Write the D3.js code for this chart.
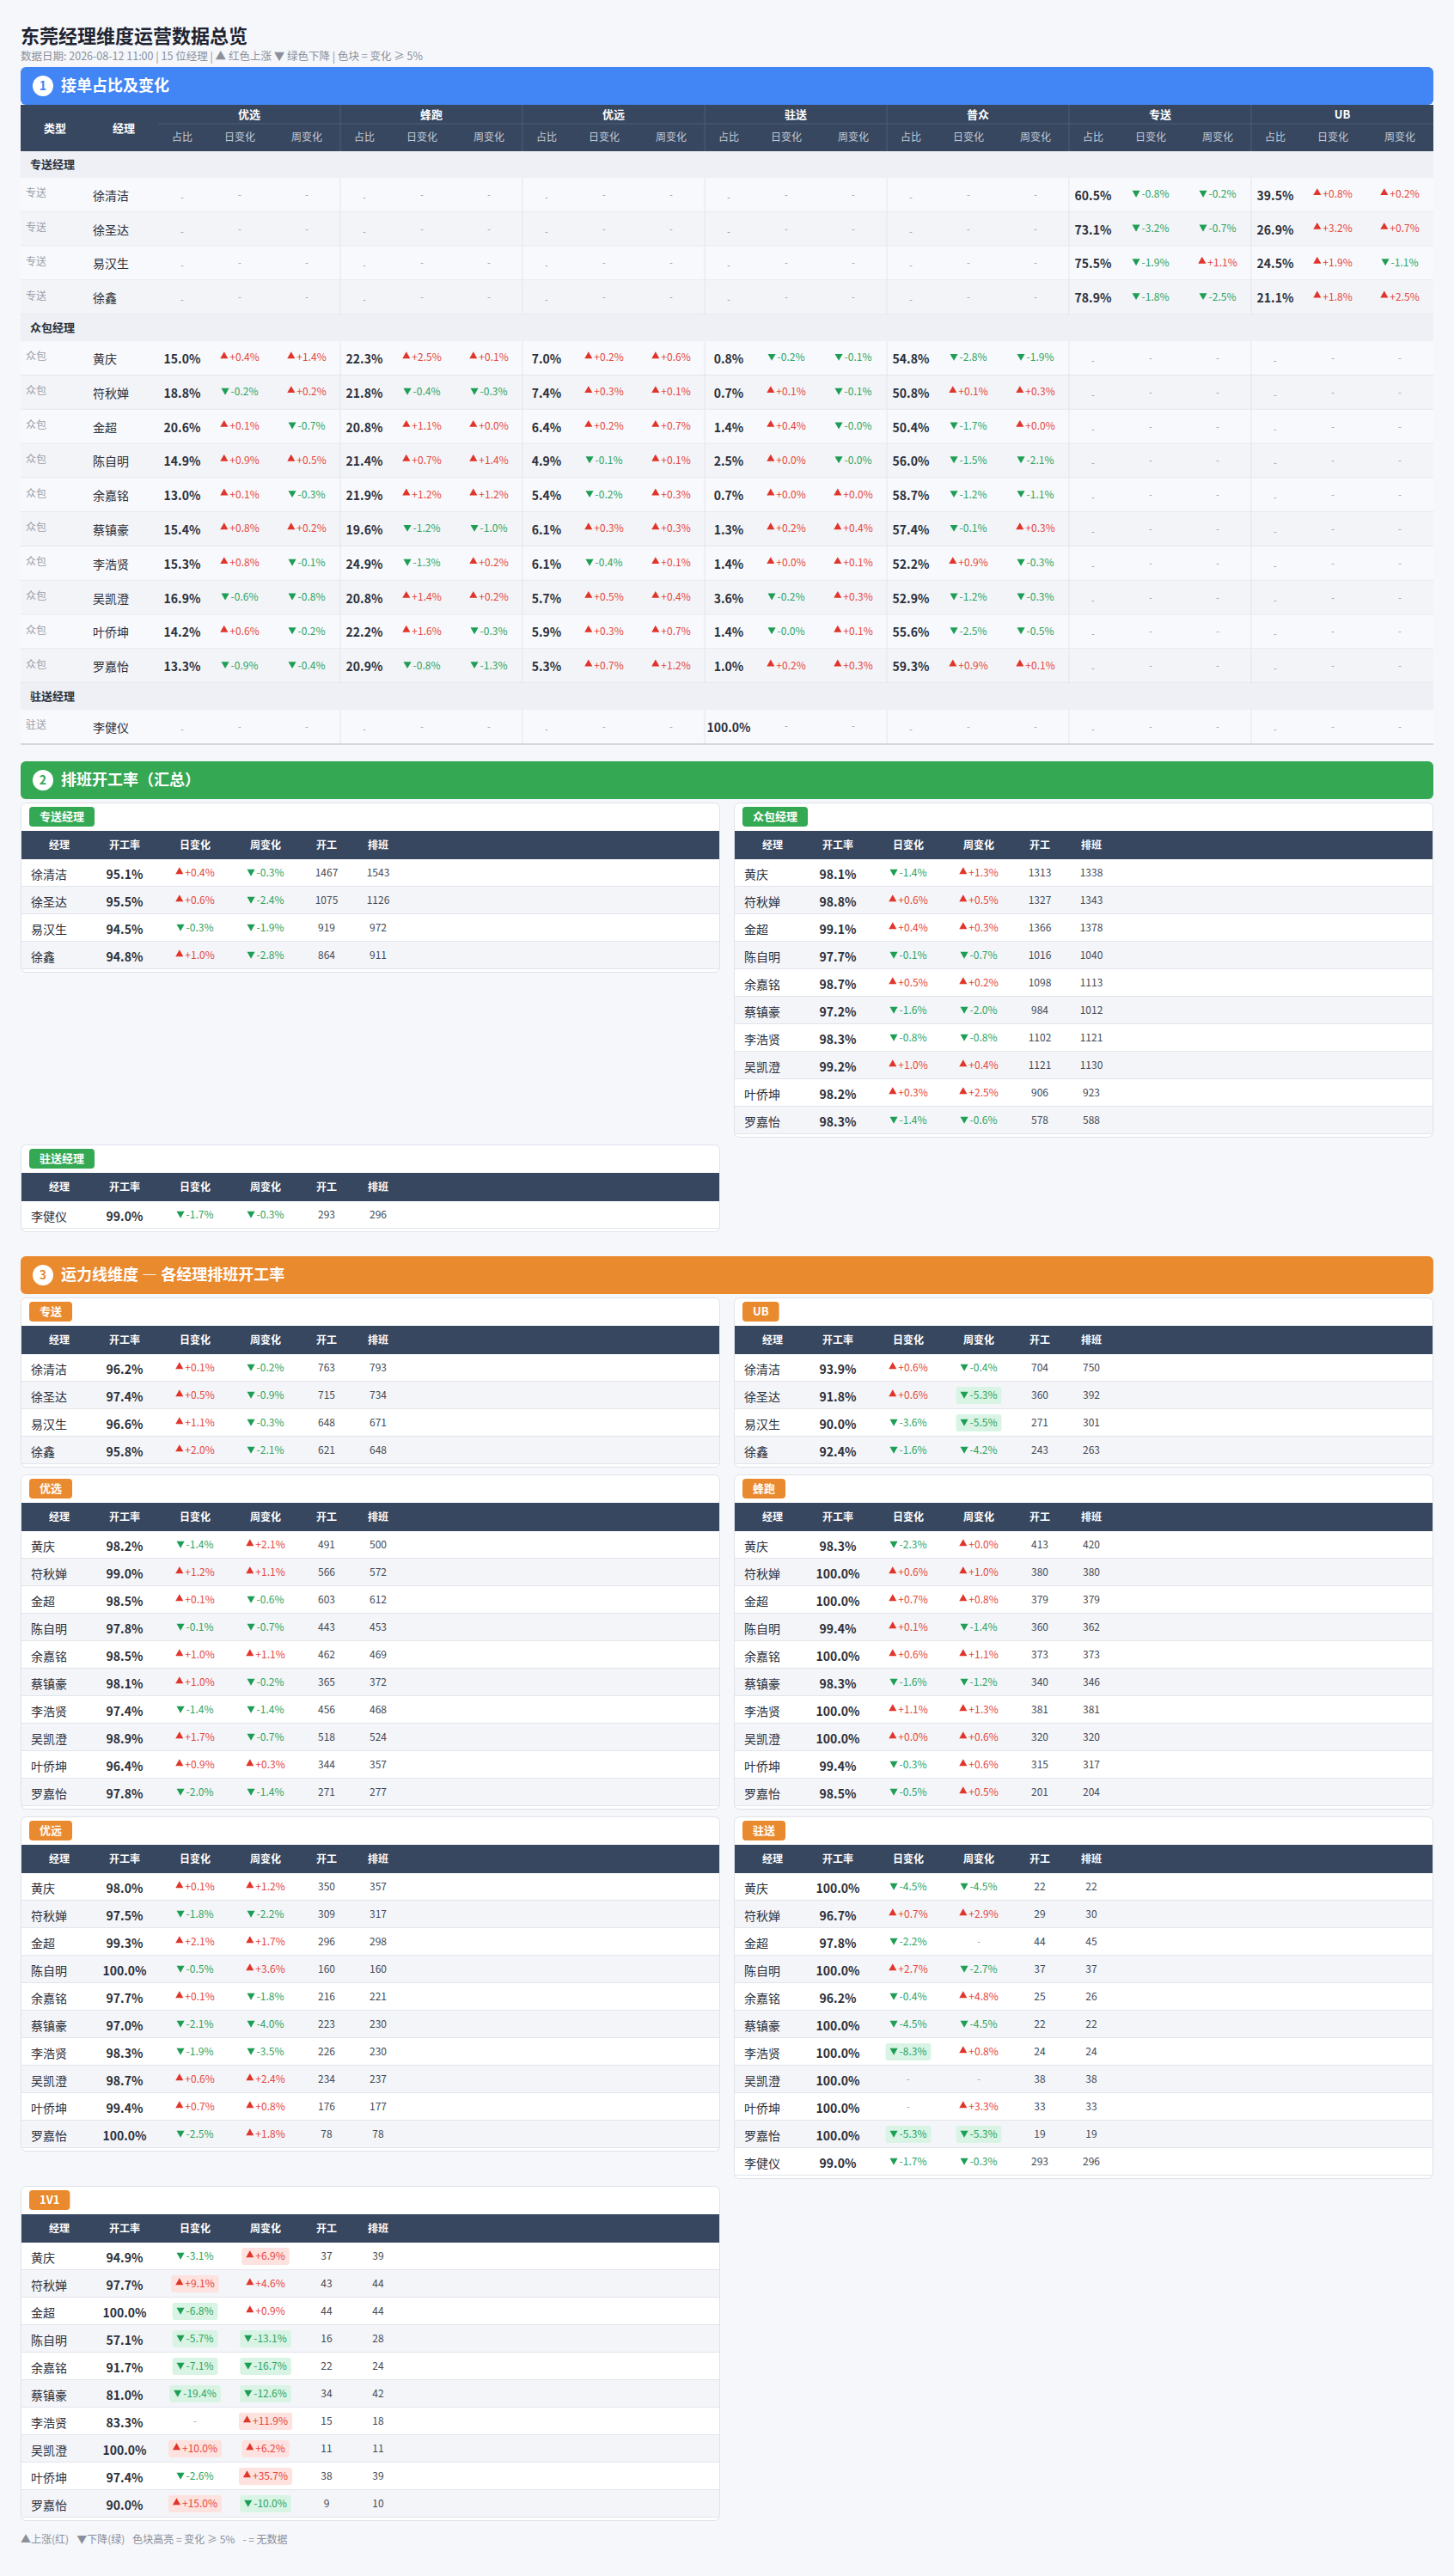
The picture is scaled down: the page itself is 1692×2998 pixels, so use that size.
<!DOCTYPE html>
<html lang="zh-CN">
<head>
<meta charset="utf-8">
<script src="https://cdn.jsdelivr.net/npm/d3@7"></script>
<style>
body { margin: 0; background: #f5f7fb; }
svg text { font-family: "Noto Sans CJK SC", "Noto Sans", sans-serif; }
</style>
</head>
<body>
<script>

// ---- data ----
var lines = ["优选", "蜂跑", "优远", "驻送", "普众", "专送", "UB"];
var subCols = ["占比", "日变化", "周变化"];

// 接单占比: [经理, [占比, 日变化, 周变化] per line]
var zhuansongLines = ["专送", "UB"];
var shareZhuansong = [
  ["徐清洁", [60.5, -0.8, -0.2], [39.5, 0.8, 0.2]],
  ["徐圣达", [73.1, -3.2, -0.7], [26.9, 3.2, 0.7]],
  ["易汉生", [75.5, -1.9, 1.1], [24.5, 1.9, -1.1]],
  ["徐鑫", [78.9, -1.8, -2.5], [21.1, 1.8, 2.5]]
];
var zhongbaoLines = ["优选", "蜂跑", "优远", "驻送", "普众"];
var shareZhongbao = [
  ["黄庆", [15.0, 0.4, 1.4], [22.3, 2.5, 0.1], [7.0, 0.2, 0.6], [0.8, -0.2, -0.1], [54.8, -2.8, -1.9]],
  ["符秋婵", [18.8, -0.2, 0.2], [21.8, -0.4, -0.3], [7.4, 0.3, 0.1], [0.7, 0.1, -0.1], [50.8, 0.1, 0.3]],
  ["金超", [20.6, 0.1, -0.7], [20.8, 1.1, 0.0], [6.4, 0.2, 0.7], [1.4, 0.4, -0.0], [50.4, -1.7, 0.0]],
  ["陈自明", [14.9, 0.9, 0.5], [21.4, 0.7, 1.4], [4.9, -0.1, 0.1], [2.5, 0.0, -0.0], [56.0, -1.5, -2.1]],
  ["余嘉铭", [13.0, 0.1, -0.3], [21.9, 1.2, 1.2], [5.4, -0.2, 0.3], [0.7, 0.0, 0.0], [58.7, -1.2, -1.1]],
  ["蔡镇豪", [15.4, 0.8, 0.2], [19.6, -1.2, -1.0], [6.1, 0.3, 0.3], [1.3, 0.2, 0.4], [57.4, -0.1, 0.3]],
  ["李浩贤", [15.3, 0.8, -0.1], [24.9, -1.3, 0.2], [6.1, -0.4, 0.1], [1.4, 0.0, 0.1], [52.2, 0.9, -0.3]],
  ["吴凯澄", [16.9, -0.6, -0.8], [20.8, 1.4, 0.2], [5.7, 0.5, 0.4], [3.6, -0.2, 0.3], [52.9, -1.2, -0.3]],
  ["叶侨坤", [14.2, 0.6, -0.2], [22.2, 1.6, -0.3], [5.9, 0.3, 0.7], [1.4, -0.0, 0.1], [55.6, -2.5, -0.5]],
  ["罗嘉怡", [13.3, -0.9, -0.4], [20.9, -0.8, -1.3], [5.3, 0.7, 1.2], [1.0, 0.2, 0.3], [59.3, 0.9, 0.1]]
];
var zhusongLines = ["驻送"];
var shareZhusong = [
  ["李健仪", [100.0, null, null]]
];

// 排班开工率: [经理, 开工率, 日变化, 周变化, 开工, 排班]
var tableCols = ["经理", "开工率", "日变化", "周变化", "开工", "排班"];
var paibanZhuansong = [
  ["徐清洁", 95.1, 0.4, -0.3, 1467, 1543],
  ["徐圣达", 95.5, 0.6, -2.4, 1075, 1126],
  ["易汉生", 94.5, -0.3, -1.9, 919, 972],
  ["徐鑫", 94.8, 1.0, -2.8, 864, 911]
];
var paibanZhongbao = [
  ["黄庆", 98.1, -1.4, 1.3, 1313, 1338],
  ["符秋婵", 98.8, 0.6, 0.5, 1327, 1343],
  ["金超", 99.1, 0.4, 0.3, 1366, 1378],
  ["陈自明", 97.7, -0.1, -0.7, 1016, 1040],
  ["余嘉铭", 98.7, 0.5, 0.2, 1098, 1113],
  ["蔡镇豪", 97.2, -1.6, -2.0, 984, 1012],
  ["李浩贤", 98.3, -0.8, -0.8, 1102, 1121],
  ["吴凯澄", 99.2, 1.0, 0.4, 1121, 1130],
  ["叶侨坤", 98.2, 0.3, 2.5, 906, 923],
  ["罗嘉怡", 98.3, -1.4, -0.6, 578, 588]
];
var paibanZhusong = [
  ["李健仪", 99.0, -1.7, -0.3, 293, 296]
];

// 运力线维度
var yunliZhuansong = [
  ["徐清洁", 96.2, 0.1, -0.2, 763, 793],
  ["徐圣达", 97.4, 0.5, -0.9, 715, 734],
  ["易汉生", 96.6, 1.1, -0.3, 648, 671],
  ["徐鑫", 95.8, 2.0, -2.1, 621, 648]
];
var yunliUB = [
  ["徐清洁", 93.9, 0.6, -0.4, 704, 750],
  ["徐圣达", 91.8, 0.6, -5.3, 360, 392],
  ["易汉生", 90.0, -3.6, -5.5, 271, 301],
  ["徐鑫", 92.4, -1.6, -4.2, 243, 263]
];
var yunliYouxuan = [
  ["黄庆", 98.2, -1.4, 2.1, 491, 500],
  ["符秋婵", 99.0, 1.2, 1.1, 566, 572],
  ["金超", 98.5, 0.1, -0.6, 603, 612],
  ["陈自明", 97.8, -0.1, -0.7, 443, 453],
  ["余嘉铭", 98.5, 1.0, 1.1, 462, 469],
  ["蔡镇豪", 98.1, 1.0, -0.2, 365, 372],
  ["李浩贤", 97.4, -1.4, -1.4, 456, 468],
  ["吴凯澄", 98.9, 1.7, -0.7, 518, 524],
  ["叶侨坤", 96.4, 0.9, 0.3, 344, 357],
  ["罗嘉怡", 97.8, -2.0, -1.4, 271, 277]
];
var yunliFengpao = [
  ["黄庆", 98.3, -2.3, 0.0, 413, 420],
  ["符秋婵", 100.0, 0.6, 1.0, 380, 380],
  ["金超", 100.0, 0.7, 0.8, 379, 379],
  ["陈自明", 99.4, 0.1, -1.4, 360, 362],
  ["余嘉铭", 100.0, 0.6, 1.1, 373, 373],
  ["蔡镇豪", 98.3, -1.6, -1.2, 340, 346],
  ["李浩贤", 100.0, 1.1, 1.3, 381, 381],
  ["吴凯澄", 100.0, 0.0, 0.6, 320, 320],
  ["叶侨坤", 99.4, -0.3, 0.6, 315, 317],
  ["罗嘉怡", 98.5, -0.5, 0.5, 201, 204]
];
var yunliYouyuan = [
  ["黄庆", 98.0, 0.1, 1.2, 350, 357],
  ["符秋婵", 97.5, -1.8, -2.2, 309, 317],
  ["金超", 99.3, 2.1, 1.7, 296, 298],
  ["陈自明", 100.0, -0.5, 3.6, 160, 160],
  ["余嘉铭", 97.7, 0.1, -1.8, 216, 221],
  ["蔡镇豪", 97.0, -2.1, -4.0, 223, 230],
  ["李浩贤", 98.3, -1.9, -3.5, 226, 230],
  ["吴凯澄", 98.7, 0.6, 2.4, 234, 237],
  ["叶侨坤", 99.4, 0.7, 0.8, 176, 177],
  ["罗嘉怡", 100.0, -2.5, 1.8, 78, 78]
];
var yunliZhusong = [
  ["黄庆", 100.0, -4.5, -4.5, 22, 22],
  ["符秋婵", 96.7, 0.7, 2.9, 29, 30],
  ["金超", 97.8, -2.2, null, 44, 45],
  ["陈自明", 100.0, 2.7, -2.7, 37, 37],
  ["余嘉铭", 96.2, -0.4, 4.8, 25, 26],
  ["蔡镇豪", 100.0, -4.5, -4.5, 22, 22],
  ["李浩贤", 100.0, -8.3, 0.8, 24, 24],
  ["吴凯澄", 100.0, null, null, 38, 38],
  ["叶侨坤", 100.0, null, 3.3, 33, 33],
  ["罗嘉怡", 100.0, -5.3, -5.3, 19, 19],
  ["李健仪", 99.0, -1.7, -0.3, 293, 296]
];
var yunli1V1 = [
  ["黄庆", 94.9, -3.1, 6.9, 37, 39],
  ["符秋婵", 97.7, 9.1, 4.6, 43, 44],
  ["金超", 100.0, -6.8, 0.9, 44, 44],
  ["陈自明", 57.1, -5.7, -13.1, 16, 28],
  ["余嘉铭", 91.7, -7.1, -16.7, 22, 24],
  ["蔡镇豪", 81.0, -19.4, -12.6, 34, 42],
  ["李浩贤", 83.3, null, 11.9, 15, 18],
  ["吴凯澄", 100.0, 10.0, 6.2, 11, 11],
  ["叶侨坤", 97.4, -2.6, 35.7, 38, 39],
  ["罗嘉怡", 90.0, 15.0, -10.0, 9, 10]
];

// ---- styles ----
var W = 1692, H = 2998, X0 = 24, X1 = 1668, CW = 814;
var RED = "#e5483d", GREEN = "#2ea563", RED_BG = "#fde2df", GREEN_BG = "#d9f4e4";
var DARK = "#374760", BLUE = "#4285f4", GREENBAR = "#34a853", ORANGE = "#ea8a2f";
var TEXT = "#2b303b", MUTED = "#9aa0a8";

var svg = d3.select("body").append("svg")
  .attr("width", W)
  .attr("height", H);

svg.append("rect").attr("width", W).attr("height", H).attr("fill", "#f5f7fb");

function isDown(v) { return v < 0 || Object.is(v, -0); }
function fmtChg(v) { return (isDown(v) ? "-" : "+") + Math.abs(v).toFixed(1) + "%"; }

function dash(g, cx, cy) {
  g.append("text").attr("x", cx).attr("y", cy).attr("dy", "0.35em")
    .attr("text-anchor", "middle").attr("font-size", 11).attr("fill", MUTED).text("-");
}

// arrow + change text, centred on cx
function drawChange(g, cx, cy, v, highlight) {
  if (v == null) { dash(g, cx, cy); return; }
  var down = isDown(v);
  var cg = g.append("g");
  var bg = (highlight && Math.abs(v) >= 5) ? cg.append("rect") : null;
  var t = cg.append("text").attr("y", cy).attr("dy", "0.35em")
    .attr("font-size", 12).attr("fill", down ? GREEN : RED).text(fmtChg(v));
  var tw = t.node().getComputedTextLength();
  var triW = 9, gap = 2, total = triW + gap + tw;
  var x0 = cx - total / 2;
  t.attr("x", x0 + triW + gap);
  cg.append("path")
    .attr("d", d3.symbol(d3.symbolTriangle, 36)())
    .attr("transform", "translate(" + (x0 + triW / 2) + "," + (cy - 1.5) + ")" + (down ? " rotate(180)" : ""))
    .attr("fill", down ? "#1e9e55" : "#e0352b");
  if (bg) {
    bg.attr("x", x0 - 5).attr("y", cy - 10).attr("width", total + 10).attr("height", 20)
      .attr("rx", 3).attr("fill", down ? GREEN_BG : RED_BG);
  }
}

function sectionBar(y, color, num, title) {
  var g = svg.append("g");
  g.append("rect").attr("x", X0).attr("y", y).attr("width", X1 - X0).attr("height", 44)
    .attr("rx", 6).attr("fill", color);
  g.append("circle").attr("cx", 50).attr("cy", y + 22).attr("r", 12).attr("fill", "#fff");
  g.append("text").attr("x", 50).attr("y", y + 22).attr("dy", "0.35em").attr("text-anchor", "middle")
    .attr("font-size", 14).attr("font-weight", 700).attr("fill", color).text(num);
  g.append("text").attr("x", 71).attr("y", y + 22).attr("dy", "0.35em")
    .attr("font-size", 18).attr("font-weight", 700).attr("fill", "#fff").text(title);
}

// ---- title ----
svg.append("text").attr("x", X0).attr("y", 42).attr("dy", "0.35em")
  .attr("font-size", 22).attr("font-weight", 700).attr("fill", "#1f2430")
  .text("东莞经理维度运营数据总览");
svg.append("text").attr("x", X0).attr("y", 66).attr("dy", "0.35em")
  .attr("font-size", 12.5).attr("fill", "#8b909a")
  .text("数据日期: 2026-08-12 11:00 | 15 位经理 | ▲ 红色上涨 ▼ 绿色下降 | 色块 = 变化 ≥ 5%");

// ---- section 1 ----
sectionBar(78, BLUE, "1", "接单占比及变化");

var headTop = 122, headMid = 144, headBot = 176;
var xGroup = d3.scaleBand().domain(lines).range([184, X1]);
var xSub = d3.scaleOrdinal().domain(subCols).range([28, 95, 173]);

var s1 = svg.append("g");
s1.append("rect").attr("x", X0).attr("y", headTop).attr("width", X1 - X0).attr("height", headBot - headTop).attr("fill", DARK);
s1.append("line").attr("x1", 184).attr("x2", X1).attr("y1", headMid).attr("y2", headMid).attr("stroke", "#4f5e78");
s1.append("text").attr("x", 64).attr("y", 149).attr("dy", "0.35em").attr("text-anchor", "middle")
  .attr("font-size", 13).attr("font-weight", 700).attr("fill", "#fff").text("类型");
s1.append("text").attr("x", 144).attr("y", 149).attr("dy", "0.35em").attr("text-anchor", "middle")
  .attr("font-size", 13).attr("font-weight", 700).attr("fill", "#fff").text("经理");

lines.forEach(function(ln, gi) {
  var gx = xGroup(ln);
  if (gi > 0) s1.append("line").attr("x1", gx).attr("x2", gx).attr("y1", headTop).attr("y2", headBot).attr("stroke", "#4f5e78");
  s1.append("text").attr("x", gx + xGroup.bandwidth() / 2).attr("y", 133).attr("dy", "0.35em")
    .attr("text-anchor", "middle").attr("font-size", 13).attr("font-weight", 700).attr("fill", "#fff").text(ln);
  subCols.forEach(function(sc) {
    s1.append("text").attr("x", gx + xSub(sc)).attr("y", 160).attr("dy", "0.35em")
      .attr("text-anchor", "middle").attr("font-size", 12).attr("fill", "#c3cad6").text(sc);
  });
});

var blocks = [
  { label: "专送经理", type: "专送", cols: zhuansongLines, rows: shareZhuansong },
  { label: "众包经理", type: "众包", cols: zhongbaoLines, rows: shareZhongbao },
  { label: "驻送经理", type: "驻送", cols: zhusongLines, rows: shareZhusong }
];

var y1 = headBot, labelH = 31, rowH = 39.8;
blocks.forEach(function(b) {
  s1.append("rect").attr("x", X0).attr("y", y1).attr("width", X1 - X0).attr("height", labelH).attr("fill", "#eef0f5");
  s1.append("text").attr("x", X0 + 11).attr("y", y1 + labelH / 2).attr("dy", "0.35em")
    .attr("font-size", 13).attr("font-weight", 700).attr("fill", TEXT).text(b.label);
  y1 += labelH;
  var yRow = d3.scaleBand().domain(b.rows.map(function(r) { return r[0]; }))
    .range([y1, y1 + b.rows.length * rowH]);
  b.rows.forEach(function(r, i) {
    var ry = yRow(r[0]), rh = yRow.bandwidth(), cy = ry + rh / 2;
    s1.append("rect").attr("x", X0).attr("y", ry).attr("width", X1 - X0).attr("height", rh)
      .attr("fill", i % 2 ? "#f3f4f8" : "#f8f9fc");
    s1.append("line").attr("x1", X0).attr("x2", X1).attr("y1", ry + rh - 0.5).attr("y2", ry + rh - 0.5)
      .attr("stroke", "#e2e5ec");
    s1.append("text").attr("x", X0 + 6).attr("y", cy - 2).attr("dy", "0.35em")
      .attr("font-size", 12).attr("fill", MUTED).text(b.type);
    s1.append("text").attr("x", 108).attr("y", cy + 1).attr("dy", "0.35em")
      .attr("font-size", 14).attr("fill", TEXT).text(r[0]);
    lines.forEach(function(ln, gi) {
      var gx = xGroup(ln);
      if (gi > 0) s1.append("line").attr("x1", gx).attr("x2", gx).attr("y1", ry).attr("y2", ry + rh).attr("stroke", "#e2e5ec");
      var k = b.cols.indexOf(ln);
      if (k < 0) {
        dash(s1, gx + xSub("占比"), cy + 3);
        dash(s1, gx + xSub("日变化"), cy);
        dash(s1, gx + xSub("周变化"), cy);
        return;
      }
      var v = r[1 + k];
      s1.append("text").attr("x", gx + xSub("占比")).attr("y", cy + 1).attr("dy", "0.35em")
        .attr("text-anchor", "middle").attr("font-size", 14).attr("font-weight", 700).attr("fill", TEXT)
        .text(v[0].toFixed(1) + "%");
      drawChange(s1, gx + xSub("日变化"), cy - 1, v[1], false);
      drawChange(s1, gx + xSub("周变化"), cy - 1, v[2], false);
    });
  });
  y1 += b.rows.length * rowH;
});
s1.append("line").attr("x1", X0).attr("x2", X1).attr("y1", y1).attr("y2", y1).attr("stroke", "#d3d8e0").attr("stroke-width", 2);

// ---- cards ----
var colX = d3.scaleOrdinal().domain(tableCols).range([45, 121, 203, 285, 356, 416]);

function card(x, T, label, color, rows) {
  var n = rows.length, h = 70 + 32 * n;
  var g = svg.append("g");
  g.append("rect").attr("x", x + 0.5).attr("y", T + 0.5).attr("width", CW - 1).attr("height", h - 1)
    .attr("rx", 6).attr("fill", "#fff").attr("stroke", "#dde2ea");
  // badge
  var badge = g.append("rect").attr("x", x + 10).attr("y", T + 5).attr("height", 23).attr("rx", 4).attr("fill", color);
  var bt = g.append("text").attr("x", x + 22).attr("y", T + 16.5).attr("dy", "0.35em")
    .attr("font-size", 13).attr("font-weight", 700).attr("fill", "#fff").text(label);
  badge.attr("width", bt.node().getComputedTextLength() + 24);
  // header
  g.append("rect").attr("x", x + 1).attr("y", T + 33).attr("width", CW - 2).attr("height", 33).attr("fill", DARK);
  tableCols.forEach(function(c) {
    g.append("text").attr("x", x + colX(c)).attr("y", T + 49.5).attr("dy", "0.35em").attr("text-anchor", "middle")
      .attr("font-size", 12).attr("font-weight", 700).attr("fill", "#fff").text(c);
  });
  var yRow = d3.scaleBand().domain(d3.range(n)).range([T + 66, T + 66 + 32 * n]);
  rows.forEach(function(r, i) {
    var ry = yRow(i), rh = yRow.bandwidth(), cy = ry + rh / 2;
    g.append("rect").attr("x", x + 1).attr("y", ry).attr("width", CW - 2).attr("height", rh)
      .attr("fill", i % 2 ? "#f4f5f9" : "#fff");
    g.append("line").attr("x1", x + 1).attr("x2", x + CW - 1).attr("y1", ry + rh - 0.5).attr("y2", ry + rh - 0.5)
      .attr("stroke", "#e2e5ec");
    g.append("text").attr("x", x + 12).attr("y", cy + 2).attr("dy", "0.35em")
      .attr("font-size", 14).attr("fill", TEXT).text(r[0]);
    g.append("text").attr("x", x + colX("开工率")).attr("y", cy + 2).attr("dy", "0.35em").attr("text-anchor", "middle")
      .attr("font-size", 14).attr("font-weight", 700).attr("fill", TEXT).text(r[1].toFixed(1) + "%");
    drawChange(g, x + colX("日变化"), cy, r[2], true);
    drawChange(g, x + colX("周变化"), cy, r[3], true);
    g.append("text").attr("x", x + colX("开工")).attr("y", cy).attr("dy", "0.35em").attr("text-anchor", "middle")
      .attr("font-size", 12).attr("fill", "#444b57").text(r[4]);
    g.append("text").attr("x", x + colX("排班")).attr("y", cy).attr("dy", "0.35em").attr("text-anchor", "middle")
      .attr("font-size", 12).attr("fill", "#444b57").text(r[5]);
  });
  return h;
}

function grid(top, pairs, color) {
  var y = top;
  pairs.forEach(function(p) {
    var h = 0;
    p.forEach(function(it, j) {
      if (!it) return;
      h = Math.max(h, card(j ? X1 - CW : X0, y, it[0], color, it[1]));
    });
    y += h + 8;
  });
  return y;
}

// ---- section 2 ----
var s2Top = y1 + 20;
sectionBar(s2Top, GREENBAR, "2", "排班开工率（汇总）");
var s2End = grid(s2Top + 48, [
  [["专送经理", paibanZhuansong], ["众包经理", paibanZhongbao]],
  [["驻送经理", paibanZhusong]]
], GREENBAR);

// ---- section 3 ----
var s3Top = s2End + 20;
sectionBar(s3Top, ORANGE, "3", "运力线维度 — 各经理排班开工率");
var s3End = grid(s3Top + 48, [
  [["专送", yunliZhuansong], ["UB", yunliUB]],
  [["优选", yunliYouxuan], ["蜂跑", yunliFengpao]],
  [["优远", yunliYouyuan], ["驻送", yunliZhusong]],
  [["1V1", yunli1V1]]
], ORANGE);

// footer
var legendItems = ["▲上涨(红)", "▼下降(绿)", "色块高亮 = 变化 ≥ 5%", "- = 无数据"];
var footer = svg.append("text").attr("x", X0).attr("y", s3End + 14).attr("dy", "0.35em")
  .attr("font-size", 12).attr("fill", "#8b909a");
footer.selectAll("tspan").data(legendItems).enter().append("tspan")
  .attr("dx", function(d, i) { return i ? 9 : 0; })
  .text(function(d) { return d; });

</script>
</body>
</html>
